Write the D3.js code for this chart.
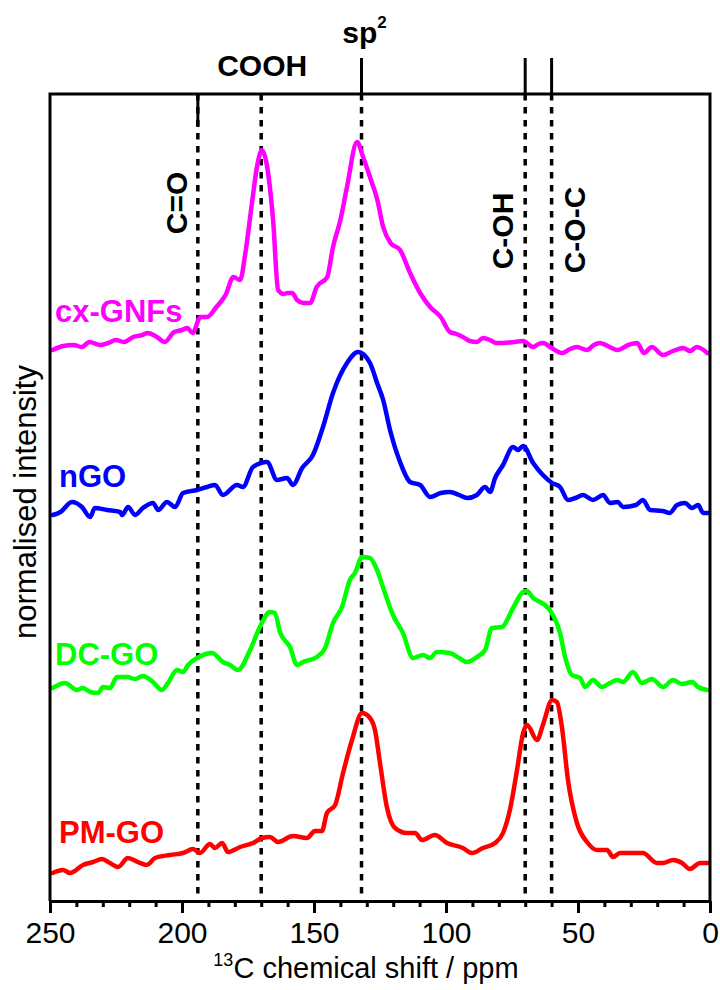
<!DOCTYPE html>
<html>
<head>
<meta charset="utf-8">
<script src="https://cdn.jsdelivr.net/npm/d3@7"></script>
<style>
  body { margin: 0; background: #fff; }
  svg text { font-family: "Liberation Sans", Arial, sans-serif; }
</style>
</head>
<body>
<div id="chart"></div>
<script>
// spectra as [chemical shift (ppm), intensity (a.u., stacked)]
var cxGNFs = [
  [249, 55.1], [245, 55.5], [241, 55.6], [238, 55.4], [235, 55.9], [231, 55.6], [228, 55.8], [225, 56.1],
  [222, 55.9], [218.5, 56.4], [215, 56.6], [213, 56.8], [209.5, 56.4], [206.5, 55.9], [203, 56.9],
  [200, 57.1], [198, 57.3], [196, 56.8], [193, 58.4], [190.5, 58.4], [187, 59.4], [183.5, 60.6],
  [180.5, 62.4], [178, 62.1], [176, 64.8], [173.5, 69.8], [171.6, 73.4], [169.7, 75.1], [168, 73.8],
  [165.5, 68.1], [163.6, 61.1], [161.5, 60.7], [160, 60.8], [158.3, 60.8], [156.4, 60.1], [154, 59.8],
  [151.5, 59.8], [149, 61.4], [145, 62.4], [142.8, 65.4], [140, 68.1], [137.5, 71.4], [133.7, 75.9],
  [131.4, 74.4], [128.8, 72.4], [126, 70.1], [123.8, 67.4], [121, 65.8], [117.4, 65.1], [113.6, 62.8],
  [109.8, 60.8], [106, 59.4], [102, 58.4], [98.5, 56.9], [96, 56.7], [93.6, 56.4], [91, 56.0], [88.3, 55.9],
  [86, 56.3], [83.3, 56.1], [81, 55.8], [78.4, 55.8], [74, 55.9], [70.8, 56.0], [67, 55.4], [65, 55.7],
  [63.3, 55.8], [60, 55.3], [56, 54.8], [53, 55.2], [50.4, 55.4], [46.6, 55.1], [44, 55.6], [41.7, 55.8],
  [38, 55.4], [35, 55.1], [31, 55.6], [27.6, 55.8], [25, 54.8], [22, 55.4], [17.8, 54.6], [14, 55.0],
  [10.2, 55.3], [7.5, 55.0], [5, 55.4], [1, 54.8]
];
var nGO = [
  [249, 38.6], [246, 38.9], [241.7, 39.9], [237.9, 39.4], [234.8, 38.4], [233, 39.3], [228.4, 39.1],
  [223.5, 38.9], [222.7, 38.6], [220.4, 39.4], [217.8, 38.6], [214.8, 39.3], [211, 39.8], [209, 39.1],
  [205.7, 39.9], [202.6, 39.4], [199.6, 40.8], [194.3, 41.1], [190.5, 41.4], [187.5, 41.6], [184.5, 40.6],
  [179.2, 41.6], [176.9, 41.4], [173.1, 43.4], [167.8, 43.9], [164, 42.1], [160.2, 42.3], [158, 41.6],
  [154.5, 43.3], [150.4, 44.6], [146.6, 47.4], [142.8, 50.8], [137.5, 53.8], [133.3, 54.9], [128.8, 53.8],
  [126.1, 51.8], [123.8, 50.1], [121.2, 47.1], [117.4, 43.9], [113.6, 41.9], [109.8, 41.6], [106, 40.4],
  [102, 40.8], [98.5, 40.9], [95, 40.6], [92, 40.3], [88.3, 40.6], [85.2, 41.4], [83.3, 40.9], [81.4, 42.3],
  [78.4, 43.6], [74.6, 45.4], [72.7, 45.1], [70.8, 45.5], [67, 43.8], [63.3, 42.6], [59.8, 41.8],
  [56.8, 41.4], [53.8, 40.1], [51, 40.3], [48.1, 40.6], [44.3, 40.1], [40.5, 40.6], [37.9, 39.8],
  [35, 39.9], [32.9, 39.4], [28, 39.6], [25.4, 40.1], [22.7, 39.1], [18, 39.0], [15.2, 38.8], [12.5, 39.6],
  [9.5, 39.8], [6.8, 39.3], [4.5, 39.6], [2.6, 38.8], [0.8, 38.8]
];
var dcGO = [
  [249, 21.3], [244.3, 21.8], [239.8, 21.1], [237.5, 21.3], [234.8, 20.9], [231.8, 20.8], [229.9, 21.4],
  [227.3, 21.3], [224.6, 22.4], [220.8, 22.4], [217.8, 22.2], [214.8, 22.5], [211, 21.9], [207.6, 21.1],
  [205.3, 21.8], [201.9, 23.1], [199.6, 22.9], [197.7, 23.6], [194.3, 24.3], [188.6, 24.8], [184.5, 23.9],
  [181.8, 23.6], [178.8, 23.1], [174.2, 25.1], [170.5, 27.4], [166.7, 28.9], [164.8, 28.8], [162.9, 26.9],
  [159.1, 25.4], [156.4, 23.6], [154.2, 23.9], [148.9, 24.4], [145.8, 25.3], [142.8, 27.8], [139.4, 29.4],
  [136.4, 32.1], [134.5, 32.8], [131.8, 34.4], [128.8, 34.3], [126.1, 33.1], [123.9, 31.4], [120.1, 28.6],
  [116.3, 26.8], [112.5, 24.3], [108.7, 24.6], [106.1, 24.3], [103.5, 24.9], [98.5, 24.8], [95, 24.3],
  [92.1, 23.9], [88.3, 24.4], [85.2, 25.1], [82.6, 27.3], [78.8, 27.4], [74.6, 29.3], [70.8, 30.9],
  [69.3, 31.0], [67, 30.3], [64.4, 29.9], [62.5, 29.6], [59.5, 28.6], [56.8, 26.8], [54.9, 24.4],
  [52.3, 22.6], [49.2, 22.3], [47.3, 21.4], [44.3, 22.1], [40.9, 21.4], [37.9, 21.8], [35.2, 22.1],
  [32.9, 21.9], [29.2, 22.9], [25.8, 21.8], [22, 22.2], [17.8, 21.4], [14, 22.1], [10.6, 21.7],
  [6.8, 21.9], [4.5, 21.4], [1.1, 21.1]
];
var pmGO = [
  [249, 2.8], [245.1, 3.1], [242.4, 2.8], [237.5, 3.6], [233.7, 3.9], [230.3, 4.2], [227.3, 3.8],
  [224.2, 3.4], [220.5, 4.3], [216.7, 3.9], [213.3, 3.6], [210.2, 4.3], [204.5, 4.6], [199.6, 4.8],
  [195.8, 5.2], [193.2, 4.8], [189.4, 5.7], [187.5, 5.3], [184.8, 5.8], [182.6, 4.9], [178, 5.4],
  [173.1, 5.8], [169.7, 6.3], [166.7, 6.4], [163.6, 5.9], [158, 6.5], [152.7, 6.3], [149.6, 7.0],
  [147, 7.0], [145.1, 8.8], [142, 9.6], [139, 12.8], [135.6, 16.1], [131.8, 18.8], [128.8, 18.3],
  [126.9, 17.1], [125, 13.8], [122.4, 9.4], [119.3, 7.3], [114.8, 6.8], [111.7, 6.8], [109.1, 6.1],
  [104.2, 6.6], [99.6, 5.8], [93.6, 5.3], [90.2, 4.8], [86, 5.3], [81.4, 5.8], [78.4, 6.8], [75.8, 9.1],
  [73.1, 13.1], [70.8, 16.8], [69.3, 17.6], [65.5, 16.1], [63.3, 17.6], [59.8, 20.1], [58, 19.9],
  [56.1, 17.4], [53.8, 12.1], [50.4, 7.8], [46.6, 5.9], [42.8, 5.1], [39, 5.1], [36.7, 4.4], [34.1, 4.8],
  [29.2, 4.8], [25.4, 4.8], [20.1, 3.8], [17.8, 3.8], [14, 4.1], [10.6, 3.8], [7.6, 3.2], [3.8, 3.8], [0.8, 3.8]
];

var seriesNames = ["cx-GNFs", "nGO", "DC-GO", "PM-GO"];
var seriesColors = ["#ff00ff", "#0000ff", "#00ff00", "#ff0000"];
var seriesData = [cxGNFs, nGO, dcGO, pmGO];
var labelLevels = [57.9, 41.4, 23.6, 5.8];   // intensity level of each series label

var refShifts = [194, 170, 132, 70, 60];
var refNames = ["C=O", "COOH", "sp2", "C-OH", "C-O-C"];
var majorTicks = [250, 200, 150, 100, 50, 0];
var minorTicks = d3.range(0, 251, 10);

var width = 720, height = 990;
var margin = {top: 94, right: 10, bottom: 89, left: 50};

var svg = d3.select("#chart").append("svg")
    .attr("width", width)
    .attr("height", height);

var x = d3.scaleLinear().domain([250, 0]).range([margin.left, width - margin.right]);
var y = d3.scaleLinear().domain([0, 80.7]).range([height - margin.bottom, margin.top]);

var x0 = x.range()[0], x1 = x.range()[1];
var yb = y.range()[0], yt = y.range()[1];

// reference lines
refShifts.forEach(function (s, i) {
    svg.append("line")
        .attr("x1", x(s)).attr("x2", x(s))
        .attr("y1", yt).attr("y2", yb)
        .attr("stroke", "#000")
        .attr("stroke-width", 3.5)
        .attr("stroke-dasharray", "6.5,6.5");
});
// solid marker stubs above the frame
[132, 70, 60].forEach(function (s) {
    svg.append("line")
        .attr("x1", x(s)).attr("x2", x(s))
        .attr("y1", yt - 36).attr("y2", yt)
        .attr("stroke", "#000").attr("stroke-width", 3);
});
svg.append("line")
    .attr("x1", x(194)).attr("x2", x(194))
    .attr("y1", yt).attr("y2", yt + 33)
    .attr("stroke", "#000").attr("stroke-width", 3);

// spectra
var line = d3.line()
    .x(function (d) { return x(d[0]); })
    .y(function (d) { return y(d[1]); })
    .curve(d3.curveMonotoneX);

seriesData.forEach(function (data, i) {
    svg.append("path")
        .datum(data)
        .attr("fill", "none")
        .attr("stroke", seriesColors[i])
        .attr("stroke-width", 4.5)
        .attr("stroke-linejoin", "round")
        .attr("stroke-linecap", "round")
        .attr("d", line);
    svg.append("text")
        .attr("x", i % 2 === 0 ? 55 : 59)
        .attr("y", y(labelLevels[i]))
        .attr("fill", seriesColors[i])
        .attr("font-size", 31)
        .attr("font-weight", "bold")
        .text(seriesNames[i]);
});

// frame
svg.append("path")
    .attr("d", "M" + x0 + "," + yb + "V" + yt + "H" + x1 + "V" + yb)
    .attr("fill", "none")
    .attr("stroke", "#000")
    .attr("stroke-width", 3)
    .attr("stroke-linejoin", "miter");

// x axis
var gMinor = svg.append("g")
    .attr("transform", "translate(0," + yb + ")")
    .call(d3.axisBottom(x).tickValues(minorTicks).tickSize(6).tickFormat(""));
gMinor.select(".domain").remove();
gMinor.selectAll("line").attr("stroke-width", 3);

var gMajor = svg.append("g")
    .attr("transform", "translate(0," + yb + ")")
    .call(d3.axisBottom(x).tickValues(majorTicks).tickSize(12).tickSizeOuter(0).tickPadding(9));
gMajor.select(".domain").attr("stroke-width", 3);
gMajor.selectAll("line").attr("stroke-width", 3);
gMajor.selectAll("text")
    .attr("font-size", 30)
    .attr("font-family", "'Liberation Sans', Arial, sans-serif")
    .attr("fill", "#000");

// axis titles
var xt = svg.append("text")
    .attr("x", 366).attr("y", 978)
    .attr("text-anchor", "middle")
    .attr("font-size", 29);
xt.append("tspan").attr("font-size", 18).attr("dy", -12).text("13");
xt.append("tspan").attr("dy", 12).text("C chemical shift / ppm");

svg.append("text")
    .attr("transform", "translate(36,502) rotate(-90)")
    .attr("text-anchor", "middle")
    .attr("font-size", 31)
    .text("normalised intensity");

// reference labels
svg.append("text")
    .attr("x", x(170) + 1).attr("y", 76)
    .attr("text-anchor", "middle")
    .attr("font-size", 30).attr("font-weight", "bold")
    .text(refNames[1]);

var sp = svg.append("text")
    .attr("x", x(132) + 3).attr("y", 43)
    .attr("text-anchor", "middle")
    .attr("font-size", 30).attr("font-weight", "bold");
sp.append("tspan").text("sp");
sp.append("tspan").attr("font-size", 17).attr("dy", -15).text("2");

var vertLabels = [
    {name: refNames[0], bx: 187, cy: 203},
    {name: refNames[3], bx: 513, cy: 231},
    {name: refNames[4], bx: 585, cy: 230}
];
vertLabels.forEach(function (l) {
    svg.append("text")
        .attr("transform", "translate(" + l.bx + "," + l.cy + ") rotate(-90)")
        .attr("text-anchor", "middle")
        .attr("font-size", 30).attr("font-weight", "bold")
        .text(l.name);
});
</script>
</body>
</html>
